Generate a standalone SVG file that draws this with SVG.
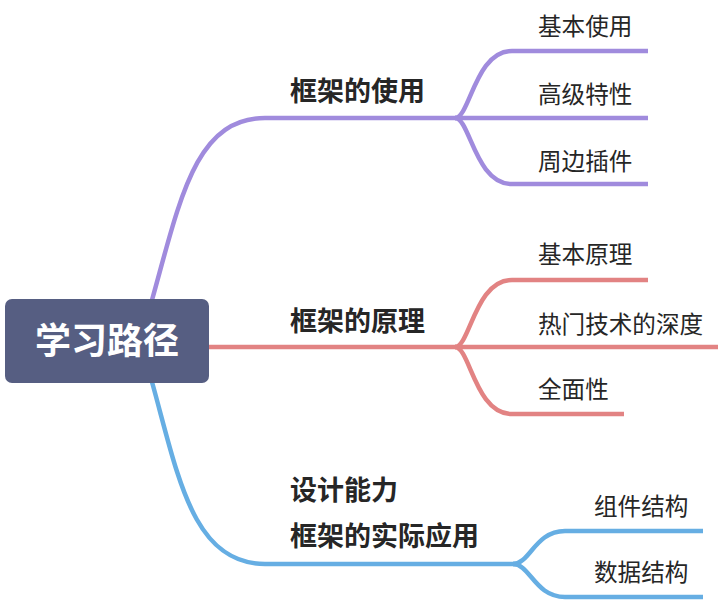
<svg xmlns="http://www.w3.org/2000/svg" width="724" height="602" viewBox="0 0 724 602">
<style>
.ln{fill:none;stroke-width:4.5;stroke-linecap:butt;stroke-linejoin:round}
.p{stroke:#a08bdd}
.r{stroke:#e28383}
.b{stroke:#66aee3}
.t{font-family:"Noto Sans CJK SC","Noto Sans",sans-serif;fill:#262626}
.mid{font-size:27px;font-weight:700}
.leaf{font-size:23.6px;font-weight:400}
.root{font-size:36px;font-weight:700;fill:#ffffff;font-family:"Noto Sans CJK SC","Noto Sans",sans-serif}
</style>
<rect width="724" height="602" fill="#ffffff"/>
<g id="connectors">
<path class="ln p" d="M152,300 C180,200 195,118 265,118 H457"/>
<path class="ln p" d="M455,118 C470,118 475,51 512,51 H648"/>
<path class="ln p" d="M455,118 H648"/>
<path class="ln p" d="M455,118 C470,118 475,184 512,184 H648"/>
<path class="ln r" d="M208,347 H457"/>
<path class="ln r" d="M455,347 C470,347 475,280 512,280 H648"/>
<path class="ln r" d="M455,347 H718"/>
<path class="ln r" d="M455,347 C470,347 475,414 512,414 H624"/>
<path class="ln b" d="M152,382 C178,475 192,564 265,564 H517"/>
<path class="ln b" d="M513,564 C530,564 535,531 565,531 H703"/>
<path class="ln b" d="M513,564 C530,564 535,597 565,597 H703"/>
</g>
<g id="root">
<rect x="5" y="299" width="204" height="84" rx="7" fill="#565e82"/>
<text class="root" x="107" y="354" text-anchor="middle">学习路径</text>
</g>
<g id="n-use"><text class="t mid" x="290" y="101">框架的使用</text></g>
<g id="n-use-1"><text class="t leaf" x="538" y="35">基本使用</text></g>
<g id="n-use-2"><text class="t leaf" x="538" y="103">高级特性</text></g>
<g id="n-use-3"><text class="t leaf" x="538" y="170">周边插件</text></g>
<g id="n-principle"><text class="t mid" x="290" y="331">框架的原理</text></g>
<g id="n-principle-1"><text class="t leaf" x="538" y="263">基本原理</text></g>
<g id="n-principle-2"><text class="t leaf" x="538" y="333">热门技术的深度</text></g>
<g id="n-principle-3"><text class="t leaf" x="538" y="398">全面性</text></g>
<g id="n-design"><text class="t mid" x="290" y="500">设计能力</text><text class="t mid" x="290" y="546">框架的实际应用</text></g>
<g id="n-design-1"><text class="t leaf" x="594" y="515">组件结构</text></g>
<g id="n-design-2"><text class="t leaf" x="594" y="581">数据结构</text></g>
</svg>
